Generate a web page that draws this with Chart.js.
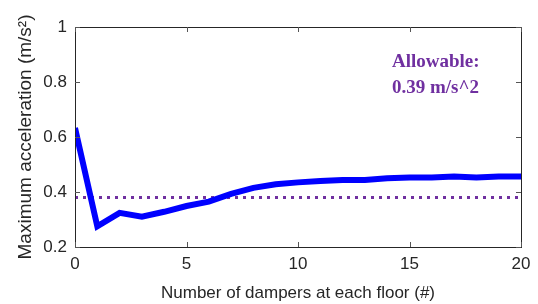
<!DOCTYPE html>
<html><head><meta charset="utf-8">
<script src="https://cdn.jsdelivr.net/npm/chart.js@4.4.0/dist/chart.umd.min.js"></script>
<style>html,body{margin:0;padding:0;background:#fff}#wrap{width:538px;height:304px}</style>
</head><body><div id="wrap"><canvas id="c" width="538" height="304"></canvas></div>
<script>
const dampers = [0,1,2,3,4,5,6,7,8,9,10,11,12,13,14,15,16,17,18,19,20];
const maxAccel = [0.633,0.275,0.324,0.31,0.328,0.349,0.365,0.393,0.415,0.428,0.435,0.44,0.444,0.444,0.45,0.453,0.453,0.456,0.453,0.456,0.456];
const allowableX = [0,20];
const allowableY = [0.38,0.38];
const xTicks = [0,5,10,15,20];
const yTicks = [0.2,0.4,0.6,0.8,1];
const annotationLines = ['Allowable:','0.39 m/s^2'];

const AREA = {left:75,right:521,top:27,bottom:247};

const innerTicks = {
  id:'innerTicks',
  afterDraw(chart){
    const ctx = chart.ctx, a = chart.chartArea, xs = chart.scales.x, ys = chart.scales.y;
    ctx.save();
    ctx.strokeStyle = '#262626'; ctx.lineWidth = 1;
    ctx.strokeRect(Math.round(a.left)+0.5, Math.round(a.top)+0.5, Math.round(a.right-a.left), Math.round(a.bottom-a.top));
    ctx.strokeStyle = '#555';
    const L = 5;
    xTicks.forEach(v=>{
      const p = Math.round(xs.getPixelForValue(v))+0.5;
      ctx.beginPath(); ctx.moveTo(p,a.bottom); ctx.lineTo(p,a.bottom-L);
      ctx.moveTo(p,a.top); ctx.lineTo(p,a.top+L); ctx.stroke();
    });
    yTicks.forEach(v=>{
      const p = Math.round(ys.getPixelForValue(v))+0.5;
      ctx.beginPath(); ctx.moveTo(a.left,p); ctx.lineTo(a.left+L,p);
      ctx.moveTo(a.right,p); ctx.lineTo(a.right-L,p); ctx.stroke();
    });
    ctx.fillStyle = '#7030A0';
    ctx.font = 'bold 19px "Liberation Serif", "Times New Roman", serif';
    ctx.textAlign = 'left'; ctx.textBaseline = 'middle';
    ctx.fillText(annotationLines[0], 392, 62);
    ctx.fillText(annotationLines[1], 392, 88);
    ctx.restore();
  }
};

new Chart(document.getElementById('c'), {
  type:'line',
  data:{
    datasets:[
      {data: dampers.map((x,i)=>({x, y:maxAccel[i]})), borderColor:'#0000FF', borderWidth:6, pointRadius:0, tension:0, borderJoinStyle:'miter', order:1},
      {data: allowableX.map((x,i)=>({x, y:allowableY[i]})), borderColor:'#7030A0', borderWidth:3, borderDash:[3,5], pointRadius:0, order:2}
    ]
  },
  options:{
    responsive:false, animation:false, devicePixelRatio:1,
    layout:{padding:{left:0,right:538-AREA.right,top:AREA.top,bottom:0}},
    plugins:{legend:{display:false},tooltip:{enabled:false}},
    scales:{
      x:{type:'linear', min:0, max:20,
        afterBuildTicks(s){ s.ticks = xTicks.map(v=>({value:v})); },
        afterFit(s){ s.height = 304 - AREA.bottom; },
        grid:{display:false, drawTicks:false},
        border:{display:false},
        ticks:{color:'#262626', padding:7, font:{family:'"Liberation Sans", Arial, sans-serif', size:17}, maxRotation:0},
        title:{display:true, text:'Number of dampers at each floor (#)', color:'#262626', padding:{top:3,bottom:0}, font:{family:'"Liberation Sans", Arial, sans-serif', size:17}}
      },
      y:{type:'linear', min:0.2, max:1,
        afterBuildTicks(s){ s.ticks = yTicks.map(v=>({value:v})); },
        afterFit(s){ s.width = AREA.left; },
        grid:{display:false, drawTicks:false},
        border:{display:false},
        ticks:{color:'#262626', padding:8, font:{family:'"Liberation Sans", Arial, sans-serif', size:17}, callback:(v)=>String(Number(v.toFixed(1)))},
        title:{display:true, text:'Maximum acceleration (m/s²)', color:'#262626', padding:{top:14,bottom:0}, font:{family:'"Liberation Sans", Arial, sans-serif', size:19}}
      }
    }
  },
  plugins:[innerTicks]
});
</script></body></html>
